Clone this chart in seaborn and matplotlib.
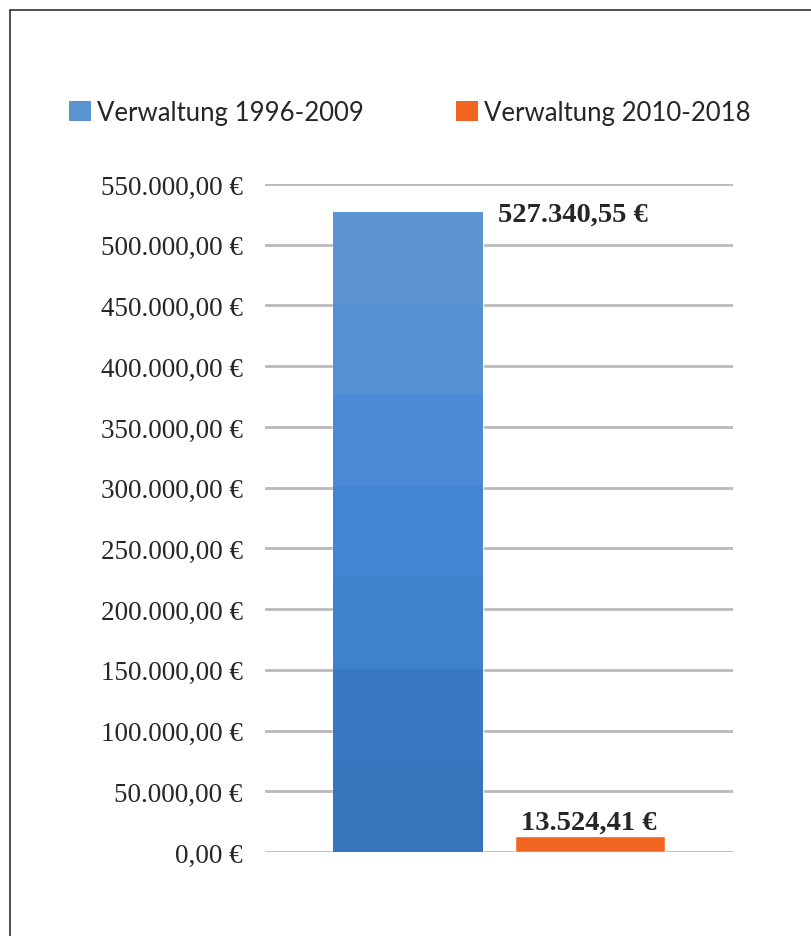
import numpy as np
import pandas as pd
import matplotlib
matplotlib.use("Agg")
import matplotlib.pyplot as plt
import seaborn as sns
from matplotlib.patches import Patch
from matplotlib.colors import LinearSegmentedColormap
from matplotlib.lines import Line2D

# ---- data ----
series = ["Verwaltung 1996-2009", "Verwaltung 2010-2018"]
values = [527340.55, 13524.41]
value_labels = ["527.340,55 €", "13.524,41 €"]
yticks = [0, 50000, 100000, 150000, 200000, 250000, 300000, 350000, 400000, 450000, 500000, 550000]
ytick_labels = ["0,00 €", "50.000,00 €", "100.000,00 €", "150.000,00 €", "200.000,00 €",
                "250.000,00 €", "300.000,00 €", "350.000,00 €", "400.000,00 €",
                "450.000,00 €", "500.000,00 €", "550.000,00 €"]
colors = ["#5B93D1", "#F06522"]

df = pd.DataFrame({"cat": ["A", "A"], "series": series, "value": values})

sns.set_style("white")
serif = ["Liberation Serif", "DejaVu Serif"]
sans = ["Lato", "DejaVu Sans"]

fig = plt.figure(figsize=(8.11, 9.37), dpi=100)
W, H = 811, 937
ax = fig.add_axes([265 / W, 84 / H, (733 - 265) / W, (853 - 185) / H])

sns.barplot(data=df, x="cat", y="value", hue="series", palette=colors,
            width=0.78, gap=0.18, ax=ax, legend=False, saturation=1)

ax.set_xlim(-0.5, 0.5)
ax.set_ylim(0, 550000)
ax.set_yticks(yticks)
ax.set_yticklabels(ytick_labels, fontfamily=serif, fontsize=19.5)
ax.tick_params(axis="y", length=0, pad=16)
ax.set_xticks([])
ax.set_xlabel("")
ax.set_ylabel("")
for s in ax.spines.values():
    s.set_visible(False)
ax.yaxis.grid(True, color="#BABABA", linewidth=2)
ax.set_axisbelow(True)

bars = sorted(ax.patches, key=lambda p: p.get_x())

# banded gradient on the blue bar, like the original
grad_cols = ["#3674BB", "#3A7AC4", "#3F82CB", "#4586D4", "#4B8AD4", "#5590D4", "#5C94D2"]
cmap = LinearSegmentedColormap.from_list("g", grad_cols)
b = bars[0]
x0, w, h = b.get_x(), b.get_width(), b.get_height()
grad = np.linspace(0, 1, 7).reshape(-1, 1)
im = ax.imshow(grad, extent=[x0, x0 + w, 0, h], origin="lower", aspect="auto",
               cmap=cmap, interpolation="nearest", zorder=b.get_zorder() + 0.1)
im.set_clip_path(b)
ax.set_xlim(-0.5, 0.5)
ax.set_ylim(0, 550000)

# value labels
ax.annotate(value_labels[0], xy=(bars[0].get_x() + bars[0].get_width(), values[0]),
            xytext=(11, -2), textcoords="offset points", ha="left", va="center",
            fontfamily=serif, fontsize=20.5, fontweight="bold")
ax.annotate(value_labels[1], xy=(bars[1].get_x() + bars[1].get_width() / 2, values[1]),
            xytext=(-1, 1), textcoords="offset points", ha="center", va="bottom",
            fontfamily=serif, fontsize=20.5, fontweight="bold")

# legend
handles = [Patch(facecolor=c, edgecolor="none") for c in colors]
fig.legend(handles, series, loc="upper left", bbox_to_anchor=(69 / W, 1 - 101 / H),
           ncol=2, frameon=False,
           prop={"family": sans, "size": 18.5},
           handlelength=0.86, handleheight=0.86, handletextpad=0.23,
           columnspacing=3.6, borderaxespad=0, borderpad=0)

# outer border (top and left)
fig.add_artist(Line2D([10 / W, 1], [1 - 11 / H, 1 - 11 / H], color="#333333", linewidth=1.2,
                      transform=fig.transFigure))
fig.add_artist(Line2D([10 / W, 10 / W], [0, 1 - 11 / H], color="#333333", linewidth=1.2,
                      transform=fig.transFigure))

fig.savefig("out.png", dpi=100)
